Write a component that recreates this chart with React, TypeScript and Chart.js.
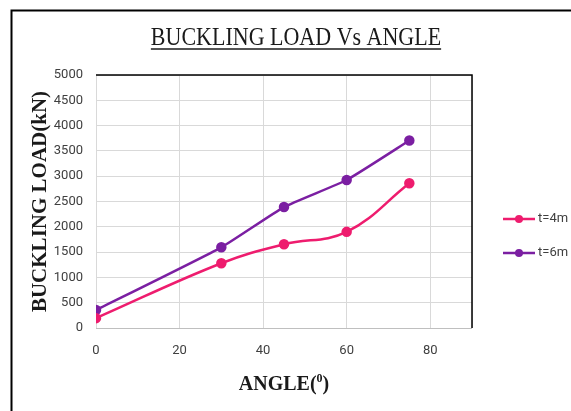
import React, { useEffect, useRef } from "react";
import { Chart, registerables } from "chart.js";

Chart.register(...registerables);

const angles = [0, 30, 45, 60, 75];
const loadT4 = [195, 1280, 1655, 1900, 2860];
const loadT6 = [355, 1595, 2390, 2925, 3705];
const seriesNames = ["t=4m", "t=6m"];
const seriesColors = ["#EE1C6E", "#7B1FA2"];
const titleText = "BUCKLING LOAD Vs ANGLE";
const yTitle = "BUCKLING LOAD(kN)";
const xTitleMain = "ANGLE(";
const xTitleSup = "0";
const xTitleEnd = ")";

const decor = {
  id: "decor",
  beforeDraw(chart: any) {
    const ctx = chart.ctx;
    ctx.save();
    ctx.fillStyle = "#ffffff";
    ctx.fillRect(0, 0, chart.width, chart.height);
    ctx.strokeStyle = "#000";
    ctx.lineWidth = 2;
    ctx.beginPath();
    ctx.moveTo(11.5, chart.height);
    ctx.lineTo(11.5, 10.5);
    ctx.lineTo(chart.width, 10.5);
    ctx.stroke();
    ctx.restore();
  },
  beforeDatasetsDraw(chart: any) {
    const ctx = chart.ctx;
    const a = chart.chartArea;
    ctx.save();
    ctx.strokeStyle = "#000";
    ctx.lineWidth = 1.5;
    ctx.beginPath();
    ctx.moveTo(a.left, a.top);
    ctx.lineTo(a.right, a.top);
    ctx.lineTo(a.right, a.bottom);
    ctx.stroke();
    ctx.restore();
  },
  afterDraw(chart: any) {
    const ctx = chart.ctx;
    const area = chart.chartArea;
    ctx.save();
    ctx.fillStyle = "#1a1a1a";
    ctx.font = "22px 'Liberation Serif'";
    ctx.textAlign = "center";
    ctx.textBaseline = "alphabetic";
    const tw = ctx.measureText(titleText).width;
    const tx = 296;
    ctx.save();
    ctx.translate(tx, 45);
    ctx.scale(1, 1.12);
    ctx.fillText(titleText, 0, 0);
    ctx.restore();
    ctx.strokeStyle = "#1a1a1a";
    ctx.lineWidth = 1.5;
    ctx.beginPath();
    ctx.moveTo(tx - tw / 2, 49);
    ctx.lineTo(tx + tw / 2, 49);
    ctx.stroke();

    ctx.save();
    ctx.translate(40, (area.top + area.bottom) / 2);
    ctx.rotate(-Math.PI / 2);
    ctx.font = "bold 21px 'Liberation Serif'";
    ctx.textAlign = "center";
    ctx.textBaseline = "middle";
    ctx.fillText(yTitle, 0, 1);
    ctx.restore();

    ctx.textAlign = "left";
    ctx.textBaseline = "alphabetic";
    ctx.font = "bold 20px 'Liberation Serif'";
    const w1 = ctx.measureText(xTitleMain).width;
    const w3 = ctx.measureText(xTitleEnd).width;
    ctx.font = "bold 12px 'Liberation Serif'";
    const w2 = ctx.measureText(xTitleSup).width;
    const total = w1 + w2 + w3;
    const x0 = (area.left + area.right) / 2 - total / 2;
    ctx.save();
    ctx.translate(0, 390);
    ctx.scale(1, 1.1);
    ctx.font = "bold 20px 'Liberation Serif'";
    ctx.fillText(xTitleMain, x0, 0);
    ctx.font = "bold 12px 'Liberation Serif'";
    ctx.fillText(xTitleSup, x0 + w1, -7);
    ctx.font = "bold 20px 'Liberation Serif'";
    ctx.fillText(xTitleEnd, x0 + w1 + w2, 0);
    ctx.restore();

    chart.data.datasets.forEach((ds: any, i: number) => {
      const y = 219 + i * 34;
      ctx.strokeStyle = ds.borderColor;
      ctx.lineWidth = 2.5;
      ctx.beginPath();
      ctx.moveTo(503, y);
      ctx.lineTo(535, y);
      ctx.stroke();
      ctx.fillStyle = ds.backgroundColor;
      ctx.beginPath();
      ctx.arc(519, y, 4, 0, Math.PI * 2);
      ctx.fill();
      ctx.fillStyle = "#404040";
      ctx.font = "13px Roboto";
      ctx.textAlign = "left";
      ctx.textBaseline = "middle";
      ctx.fillText(ds.label, 538, y);
    });
    ctx.restore();
  },
};

export default function App() {
  const ref = useRef<HTMLCanvasElement | null>(null);
  useEffect(() => {
    if (!ref.current) return;
    const mk = (vals: number[]) => angles.map((a, i) => ({ x: a, y: vals[i] }));
    const chart = new Chart(ref.current, {
      type: "line",
      data: {
        datasets: [
          {
            label: seriesNames[0],
            data: mk(loadT4),
            borderColor: seriesColors[0],
            backgroundColor: seriesColors[0],
            borderWidth: 2.5,
            pointRadius: 4,
            pointHoverRadius: 4,
            tension: 0.4,
          },
          {
            label: seriesNames[1],
            data: mk(loadT6),
            borderColor: seriesColors[1],
            backgroundColor: seriesColors[1],
            borderWidth: 2.5,
            pointRadius: 4,
            pointHoverRadius: 4,
            tension: 0.15,
          },
        ],
      },
      options: {
        responsive: false,
        animation: false,
        devicePixelRatio: 1,
        layout: { padding: { left: 0, top: 75, right: 99, bottom: 0 } },
        plugins: { legend: { display: false }, title: { display: false }, tooltip: { enabled: false } },
        scales: {
          x: {
            type: "linear",
            min: 0,
            max: 90,
            afterFit: (s: any) => {
              s.height = 83;
            },
            ticks: {
              stepSize: 20,
              padding: 15,
              color: "#404040",
              font: { family: "Roboto", size: 13 },
              callback: (v: any) => (Number(v) === 90 ? "" : String(v)),
            },
            grid: { drawTicks: false, color: "#d9d9d9", lineWidth: 1 },
            border: { display: false },
          },
          y: {
            min: 0,
            max: 5000,
            afterFit: (s: any) => {
              s.width = 96;
            },
            ticks: {
              stepSize: 500,
              padding: 13,
              color: "#404040",
              font: { family: "Roboto", size: 13 },
              callback: (v: any) => String(v),
            },
            grid: {
              drawTicks: false,
              color: (c: any) => (c.tick && Number(c.tick.value) === 0 ? "#bfbfbf" : "#d9d9d9"),
              lineWidth: 1,
            },
            border: { display: false },
          },
        },
      },
      plugins: [decor],
    });
    return () => chart.destroy();
  }, []);
  return (
    <div style={{ position: "absolute", left: 0, top: 0, width: 571, height: 411 }}>
      <canvas ref={ref} width={571} height={411} style={{ width: 571, height: 411, display: "block" }} />
    </div>
  );
}
